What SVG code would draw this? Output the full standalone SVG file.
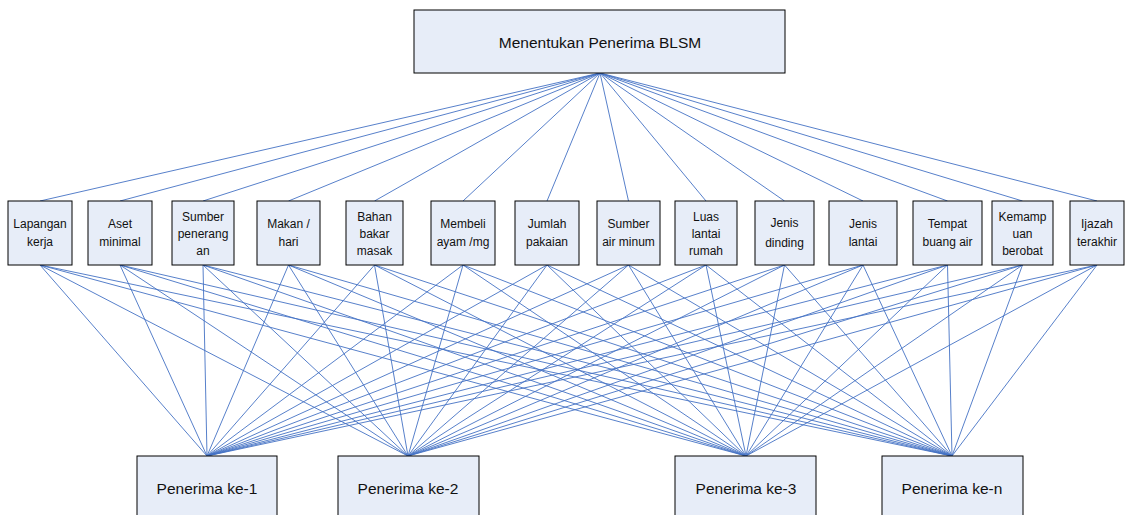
<svg xmlns="http://www.w3.org/2000/svg" width="1126" height="515" viewBox="0 0 1126 515">
<style>
.box{fill:#E7EDF8;stroke:#000;stroke-width:1}
.lbl{font-family:"Liberation Sans",Arial,sans-serif;font-size:12px;fill:#111;text-anchor:middle}
.big{font-family:"Liberation Sans",Arial,sans-serif;font-size:15.5px;fill:#111;text-anchor:middle}
.con line{stroke:#4472C4;stroke-width:0.9}
</style>
<rect width="1126" height="515" fill="#fff"/>
<g id="connectors" class="con">
<line x1="600" y1="73" x2="40" y2="201"/>
<line x1="600" y1="73" x2="120" y2="201"/>
<line x1="600" y1="73" x2="203" y2="201"/>
<line x1="600" y1="73" x2="288.5" y2="201"/>
<line x1="600" y1="73" x2="374.5" y2="201"/>
<line x1="600" y1="73" x2="463" y2="201"/>
<line x1="600" y1="73" x2="547" y2="201"/>
<line x1="600" y1="73" x2="628.5" y2="201"/>
<line x1="600" y1="73" x2="706" y2="201"/>
<line x1="600" y1="73" x2="784.5" y2="201"/>
<line x1="600" y1="73" x2="863" y2="201"/>
<line x1="600" y1="73" x2="947.5" y2="201"/>
<line x1="600" y1="73" x2="1022.5" y2="201"/>
<line x1="600" y1="73" x2="1097" y2="201"/>
<line x1="40" y1="265" x2="207" y2="456"/><line x1="40" y1="265" x2="408" y2="456"/><line x1="40" y1="265" x2="746" y2="456"/><line x1="40" y1="265" x2="952" y2="456"/>
<line x1="120" y1="265" x2="207" y2="456"/><line x1="120" y1="265" x2="408" y2="456"/><line x1="120" y1="265" x2="746" y2="456"/><line x1="120" y1="265" x2="952" y2="456"/>
<line x1="203" y1="265" x2="207" y2="456"/><line x1="203" y1="265" x2="408" y2="456"/><line x1="203" y1="265" x2="746" y2="456"/><line x1="203" y1="265" x2="952" y2="456"/>
<line x1="288.5" y1="265" x2="207" y2="456"/><line x1="288.5" y1="265" x2="408" y2="456"/><line x1="288.5" y1="265" x2="746" y2="456"/><line x1="288.5" y1="265" x2="952" y2="456"/>
<line x1="374.5" y1="265" x2="207" y2="456"/><line x1="374.5" y1="265" x2="408" y2="456"/><line x1="374.5" y1="265" x2="746" y2="456"/><line x1="374.5" y1="265" x2="952" y2="456"/>
<line x1="463" y1="265" x2="207" y2="456"/><line x1="463" y1="265" x2="408" y2="456"/><line x1="463" y1="265" x2="746" y2="456"/><line x1="463" y1="265" x2="952" y2="456"/>
<line x1="547" y1="265" x2="207" y2="456"/><line x1="547" y1="265" x2="408" y2="456"/><line x1="547" y1="265" x2="746" y2="456"/><line x1="547" y1="265" x2="952" y2="456"/>
<line x1="628.5" y1="265" x2="207" y2="456"/><line x1="628.5" y1="265" x2="408" y2="456"/><line x1="628.5" y1="265" x2="746" y2="456"/><line x1="628.5" y1="265" x2="952" y2="456"/>
<line x1="706" y1="265" x2="207" y2="456"/><line x1="706" y1="265" x2="408" y2="456"/><line x1="706" y1="265" x2="746" y2="456"/><line x1="706" y1="265" x2="952" y2="456"/>
<line x1="784.5" y1="265" x2="207" y2="456"/><line x1="784.5" y1="265" x2="408" y2="456"/><line x1="784.5" y1="265" x2="746" y2="456"/><line x1="784.5" y1="265" x2="952" y2="456"/>
<line x1="863" y1="265" x2="207" y2="456"/><line x1="863" y1="265" x2="408" y2="456"/><line x1="863" y1="265" x2="746" y2="456"/><line x1="863" y1="265" x2="952" y2="456"/>
<line x1="947.5" y1="265" x2="207" y2="456"/><line x1="947.5" y1="265" x2="408" y2="456"/><line x1="947.5" y1="265" x2="746" y2="456"/><line x1="947.5" y1="265" x2="952" y2="456"/>
<line x1="1022.5" y1="265" x2="207" y2="456"/><line x1="1022.5" y1="265" x2="408" y2="456"/><line x1="1022.5" y1="265" x2="746" y2="456"/><line x1="1022.5" y1="265" x2="952" y2="456"/>
<line x1="1097" y1="265" x2="207" y2="456"/><line x1="1097" y1="265" x2="408" y2="456"/><line x1="1097" y1="265" x2="746" y2="456"/><line x1="1097" y1="265" x2="952" y2="456"/>
</g>
<g id="goal"><rect class="box" x="414" y="10" width="371" height="63"/><text class="big" x="600" y="48">Menentukan Penerima BLSM</text></g>
<g id="c1"><rect class="box" x="8" y="201" width="64" height="64"/><text class="lbl" x="40" y="228">Lapangan</text><text class="lbl" x="40" y="246">kerja</text></g>
<g id="c2"><rect class="box" x="88" y="201" width="64" height="64"/><text class="lbl" x="120" y="228">Aset</text><text class="lbl" x="120" y="246">minimal</text></g>
<g id="c3"><rect class="box" x="172" y="201" width="62" height="64"/><text class="lbl" x="203" y="221">Sumber</text><text class="lbl" x="203" y="238">penerang</text><text class="lbl" x="203" y="255">an</text></g>
<g id="c4"><rect class="box" x="257" y="201" width="63" height="64"/><text class="lbl" x="288.5" y="228">Makan /</text><text class="lbl" x="288.5" y="246">hari</text></g>
<g id="c5"><rect class="box" x="346" y="201" width="57" height="64"/><text class="lbl" x="374.5" y="221">Bahan</text><text class="lbl" x="374.5" y="238">bakar</text><text class="lbl" x="374.5" y="255">masak</text></g>
<g id="c6"><rect class="box" x="431" y="201" width="64" height="64"/><text class="lbl" x="463" y="228">Membeli</text><text class="lbl" x="463" y="246">ayam /mg</text></g>
<g id="c7"><rect class="box" x="515" y="201" width="64" height="64"/><text class="lbl" x="547" y="228">Jumlah</text><text class="lbl" x="547" y="246">pakaian</text></g>
<g id="c8"><rect class="box" x="597" y="201" width="63" height="64"/><text class="lbl" x="628.5" y="228">Sumber</text><text class="lbl" x="628.5" y="246">air minum</text></g>
<g id="c9"><rect class="box" x="675" y="201" width="62" height="64"/><text class="lbl" x="706" y="221">Luas</text><text class="lbl" x="706" y="238">lantai</text><text class="lbl" x="706" y="255">rumah</text></g>
<g id="c10"><rect class="box" x="755" y="201" width="59" height="64"/><text class="lbl" x="784.5" y="227">Jenis</text><text class="lbl" x="784.5" y="247">dinding</text></g>
<g id="c11"><rect class="box" x="829" y="201" width="68" height="64"/><text class="lbl" x="863" y="228">Jenis</text><text class="lbl" x="863" y="246">lantai</text></g>
<g id="c12"><rect class="box" x="913" y="201" width="69" height="64"/><text class="lbl" x="947.5" y="228">Tempat</text><text class="lbl" x="947.5" y="246">buang air</text></g>
<g id="c13"><rect class="box" x="992" y="201" width="61" height="64"/><text class="lbl" x="1022.5" y="221">Kemamp</text><text class="lbl" x="1022.5" y="238">uan</text><text class="lbl" x="1022.5" y="255">berobat</text></g>
<g id="c14"><rect class="box" x="1070" y="201" width="54" height="64"/><text class="lbl" x="1097" y="228">Ijazah</text><text class="lbl" x="1097" y="246">terakhir</text></g>
<g id="p1"><rect class="box" x="137" y="456" width="140" height="70"/><text class="big" x="207" y="494">Penerima ke-1</text></g>
<g id="p2"><rect class="box" x="338" y="456" width="141" height="70"/><text class="big" x="408" y="494">Penerima ke-2</text></g>
<g id="p3"><rect class="box" x="675" y="456" width="141" height="70"/><text class="big" x="746" y="494">Penerima ke-3</text></g>
<g id="p4"><rect class="box" x="882" y="456" width="141" height="70"/><text class="big" x="952" y="494">Penerima ke-n</text></g>
</svg>
